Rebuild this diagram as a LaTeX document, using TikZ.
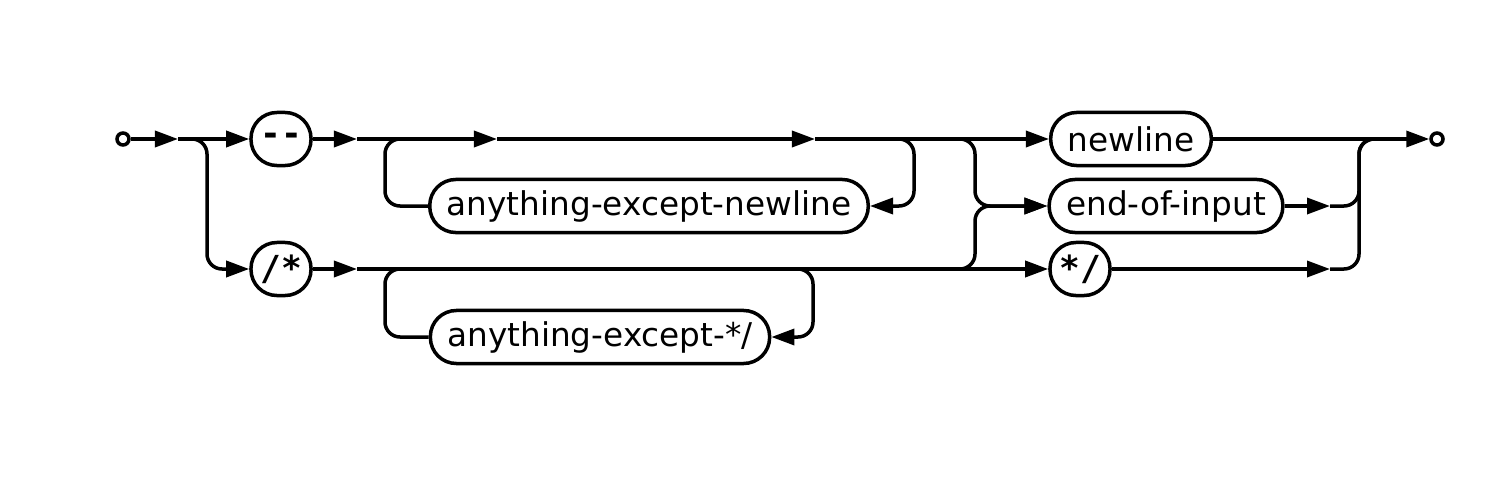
\documentclass[tikz,border=0pt]{standalone}
\usepackage{fontspec}
\setmainfont{DejaVu Sans}
\setmonofont{DejaVu Sans Mono}
\usetikzlibrary{arrows.meta}
\begin{document}
\begin{tikzpicture}[x=0.01cm,y=-0.01cm,line width=0.035cm,
  term/.style={draw,rounded corners=0.26cm,minimum height=0.53cm,inner xsep=0.17cm,inner ysep=0pt,
    font=\fontsize{9.3}{11}\selectfont},
  lit/.style={draw,rounded corners=0.26cm,minimum height=0.53cm,minimum width=0.6cm,inner sep=0pt,
    font=\ttfamily\bfseries\fontsize{9.8}{11}\selectfont},
  endpt/.style={draw,circle,minimum size=0.12cm,inner sep=0pt},
  arr/.style={-{Triangle[length=0.23cm,width=0.16cm]}},
  rc/.style={rounded corners=0.15cm}]
\useasboundingbox (0,0) rectangle (1500,500);
% nodes
\node[endpt] (s) at (123,139) {};
\node[lit] (dd) at (281,139) {-{}-};
\node[lit] (sl) at (281,269) {/*};
\node[term] (aen) at (649,206) {anything-except-newline};
\node[term] (aes) at (600,337) {anything-except-*/};
\node[term] (nl) at (1131,139) {newline};
\node[term] (eoi) at (1166,206) {end-of-input};
\node[lit] (cs) at (1080,269) {*/};
\node[endpt] (e) at (1437,139) {};
% junction coordinates
\coordinate (j0) at (178,139);
\coordinate (l1a) at (357,139);
\coordinate (l1b) at (497,139);
\coordinate (l1c) at (815,139);
\coordinate (l3a) at (357,269);
\coordinate (r1) at (1330,206);
\coordinate (r3) at (1330,269);
% start
\draw[arr] (s) -- (j0);
\draw[arr] (j0) -- (dd);
\draw[rc,arr] (j0) -- (207,139) -- (207,269) -- (sl);
% row 1
\draw[arr] (dd) -- (l1a);
\draw[arr] (l1a) -- (l1b);
\draw[arr] (l1b) -- (l1c);
\draw[arr] (l1c) -- (nl);
\draw[rc] (aen) -- (385,206) -- (385,139) -- (420,139);
\draw[rc,arr] (880,139) -- (914,139) -- (914,206) -- (aen);
% row 3
\draw[arr] (sl) -- (l3a);
\draw[arr] (l3a) -- (cs);
\draw[rc] (aes) -- (385,337) -- (385,269) -- (420,269);
\draw[rc,arr] (780,269) -- (813,269) -- (813,337) -- (aes);
% right junction
\draw[rc,arr] (945,139) -- (975,139) -- (975,206) -- (eoi);
\draw[rc,arr] (945,269) -- (975,269) -- (975,206) -- (eoi);
% exits
\draw[arr] (eoi) -- (r1);
\draw[arr] (cs) -- (r3);
\draw[arr] (nl) -- (e);
\draw[rc] (r1) -- (1359,206) -- (1359,139) -- (1390,139);
\draw[rc] (r3) -- (1359,269) -- (1359,139) -- (1390,139);
\end{tikzpicture}
\end{document}
